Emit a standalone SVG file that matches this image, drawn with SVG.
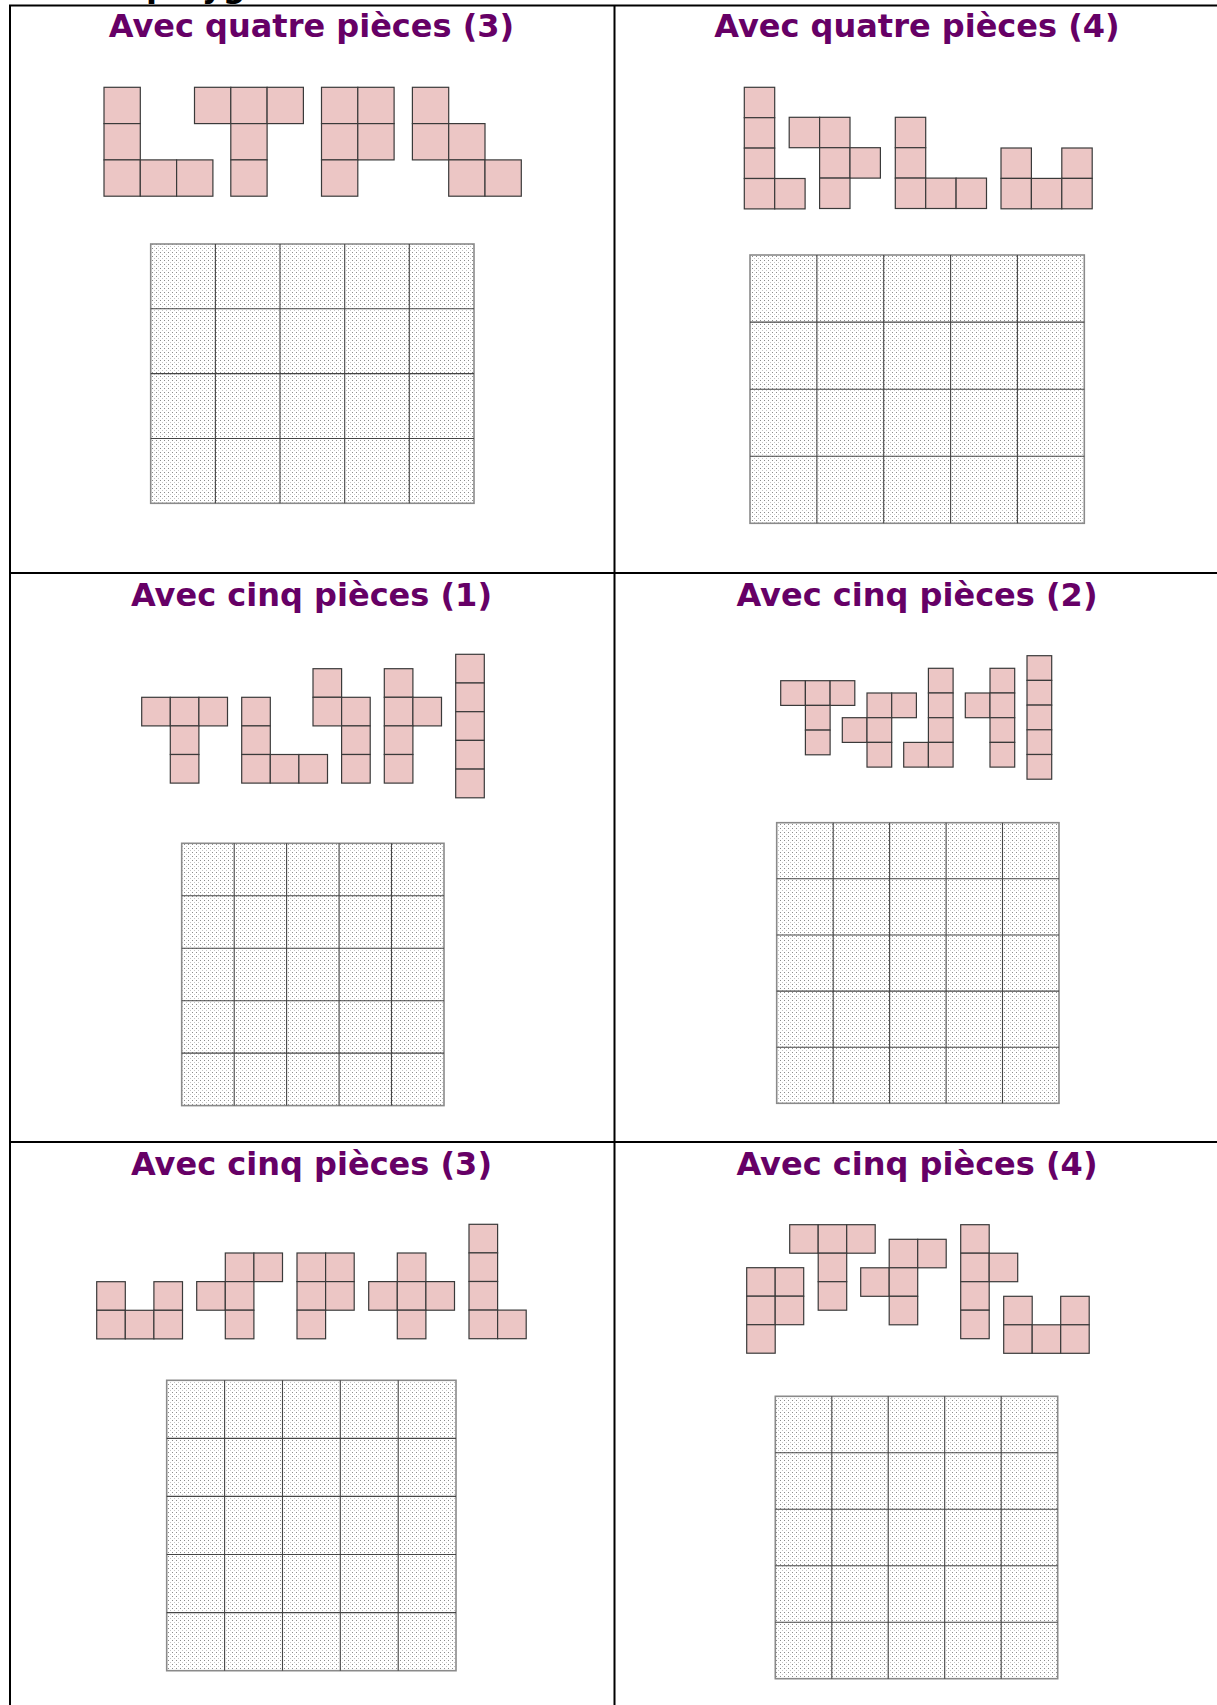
<svg xmlns="http://www.w3.org/2000/svg" width="1217" height="1705" viewBox="0 0 1217 1705">
<style>
.bg{fill:#fff}
.tbl{stroke:#000;stroke-width:2;fill:none}
.ttl{font-family:"DejaVu Sans",Verdana,sans-serif;font-weight:bold;font-size:32px;fill:#660066;text-anchor:middle}
.cut{font-family:"DejaVu Sans",Verdana,sans-serif;font-weight:bold;font-size:32px;fill:#000}
.c rect{fill:#ECC6C5;stroke:#3a3a3a;stroke-width:1.2}
.gf{fill:url(#dots);stroke:#8a8a8a;stroke-width:1.6}
.gl{fill:none;stroke:#454545;stroke-width:1.1}
</style>
<defs>
<pattern id="dots" width="4" height="4" patternUnits="userSpaceOnUse">
<rect width="4" height="4" fill="#fff"/>
<rect x="0" y="0" width="1" height="1" fill="#8c8c8c"/>
<rect x="2" y="2" width="1" height="1" fill="#c6c6c6"/>
</pattern>
</defs>
<rect class="bg" width="1217" height="1705"/>
<text class="cut" x="146" y="-3">polygones</text>

<g id="table">
<path class="tbl" d="M9 5.5H1217M10 5V1705M614.5 5V1705M10 573H1217M10 1142H1217"/>
</g>

<g id="panel1">
<text class="ttl" x="311.5" y="37">Avec quatre pièces (3)</text>
<g class="c" transform="translate(104,87.3)"><rect x="0" y="0" width="36.3" height="36.3"/><rect x="0" y="36.3" width="36.3" height="36.3"/><rect x="0" y="72.6" width="36.3" height="36.3"/><rect x="36.3" y="72.6" width="36.3" height="36.3"/><rect x="72.6" y="72.6" width="36.3" height="36.3"/></g>
<g class="c" transform="translate(194.5,87.3)"><rect x="0" y="0" width="36.3" height="36.3"/><rect x="36.3" y="0" width="36.3" height="36.3"/><rect x="72.6" y="0" width="36.3" height="36.3"/><rect x="36.3" y="36.3" width="36.3" height="36.3"/><rect x="36.3" y="72.6" width="36.3" height="36.3"/></g>
<g class="c" transform="translate(321.5,87.3)"><rect x="0" y="0" width="36.3" height="36.3"/><rect x="36.3" y="0" width="36.3" height="36.3"/><rect x="0" y="36.3" width="36.3" height="36.3"/><rect x="36.3" y="36.3" width="36.3" height="36.3"/><rect x="0" y="72.6" width="36.3" height="36.3"/></g>
<g class="c" transform="translate(412.4,87.3)"><rect x="0" y="0" width="36.3" height="36.3"/><rect x="0" y="36.3" width="36.3" height="36.3"/><rect x="36.3" y="36.3" width="36.3" height="36.3"/><rect x="36.3" y="72.6" width="36.3" height="36.3"/><rect x="72.6" y="72.6" width="36.3" height="36.3"/></g>
<g id="grid1"><rect class="gf" x="150.7" y="244" width="323.3" height="259.3"/>
<path class="gl" d="M215.4 244V503.3M280 244V503.3M344.7 244V503.3M409.3 244V503.3M150.7 308.8H474M150.7 373.6H474M150.7 438.5H474"/></g>
</g>

<g id="panel2">
<text class="ttl" x="917" y="37">Avec quatre pièces (4)</text>
<g class="c" transform="translate(744.3,87.3)"><rect x="0" y="0" width="30.4" height="30.4"/><rect x="0" y="30.4" width="30.4" height="30.4"/><rect x="0" y="60.8" width="30.4" height="30.4"/><rect x="0" y="91.2" width="30.4" height="30.4"/><rect x="30.4" y="91.2" width="30.4" height="30.4"/></g>
<g class="c" transform="translate(789.2,117.3)"><rect x="0" y="0" width="30.4" height="30.4"/><rect x="30.4" y="0" width="30.4" height="30.4"/><rect x="30.4" y="30.4" width="30.4" height="30.4"/><rect x="60.8" y="30.4" width="30.4" height="30.4"/><rect x="30.4" y="60.8" width="30.4" height="30.4"/></g>
<g class="c" transform="translate(895.3,117.3)"><rect x="0" y="0" width="30.4" height="30.4"/><rect x="0" y="30.4" width="30.4" height="30.4"/><rect x="0" y="60.8" width="30.4" height="30.4"/><rect x="30.4" y="60.8" width="30.4" height="30.4"/><rect x="60.8" y="60.8" width="30.4" height="30.4"/></g>
<g class="c" transform="translate(1001,148)"><rect x="0" y="0" width="30.4" height="30.4"/><rect x="60.8" y="0" width="30.4" height="30.4"/><rect x="0" y="30.4" width="30.4" height="30.4"/><rect x="30.4" y="30.4" width="30.4" height="30.4"/><rect x="60.8" y="30.4" width="30.4" height="30.4"/></g>
<g id="grid2"><rect class="gf" x="750" y="255" width="334.3" height="268.3"/>
<path class="gl" d="M816.9 255V523.3M883.7 255V523.3M950.6 255V523.3M1017.4 255V523.3M750 322.1H1084.3M750 389.2H1084.3M750 456.2H1084.3"/></g>
</g>

<g id="panel3">
<text class="ttl" x="311.5" y="606">Avec cinq pièces (1)</text>
<g class="c" transform="translate(141.7,697.3)"><rect x="0" y="0" width="28.6" height="28.6"/><rect x="28.6" y="0" width="28.6" height="28.6"/><rect x="57.2" y="0" width="28.6" height="28.6"/><rect x="28.6" y="28.6" width="28.6" height="28.6"/><rect x="28.6" y="57.2" width="28.6" height="28.6"/></g>
<g class="c" transform="translate(241.7,697.3)"><rect x="0" y="0" width="28.6" height="28.6"/><rect x="0" y="28.6" width="28.6" height="28.6"/><rect x="0" y="57.2" width="28.6" height="28.6"/><rect x="28.6" y="57.2" width="28.6" height="28.6"/><rect x="57.2" y="57.2" width="28.6" height="28.6"/></g>
<g class="c" transform="translate(313,668.7)"><rect x="0" y="0" width="28.6" height="28.6"/><rect x="0" y="28.6" width="28.6" height="28.6"/><rect x="28.6" y="28.6" width="28.6" height="28.6"/><rect x="28.6" y="57.2" width="28.6" height="28.6"/><rect x="28.6" y="85.8" width="28.6" height="28.6"/></g>
<g class="c" transform="translate(384.3,668.7)"><rect x="0" y="0" width="28.6" height="28.6"/><rect x="0" y="28.6" width="28.6" height="28.6"/><rect x="28.6" y="28.6" width="28.6" height="28.6"/><rect x="0" y="57.2" width="28.6" height="28.6"/><rect x="0" y="85.8" width="28.6" height="28.6"/></g>
<g class="c" transform="translate(455.7,654.3)"><rect x="0" y="0" width="28.6" height="28.7"/><rect x="0" y="28.7" width="28.6" height="28.7"/><rect x="0" y="57.4" width="28.6" height="28.7"/><rect x="0" y="86.1" width="28.6" height="28.7"/><rect x="0" y="114.8" width="28.6" height="28.7"/></g>
<g id="grid3"><rect class="gf" x="181.7" y="843.3" width="262.3" height="262.3"/>
<path class="gl" d="M234.2 843.3V1105.6M286.6 843.3V1105.6M339.1 843.3V1105.6M391.5 843.3V1105.6M181.7 895.8H444M181.7 948.2H444M181.7 1000.7H444M181.7 1053.1H444"/></g>
</g>

<g id="panel4">
<text class="ttl" x="917" y="606">Avec cinq pièces (2)</text>
<g class="c" transform="translate(780.7,680.7)"><rect x="0" y="0" width="24.7" height="24.7"/><rect x="24.7" y="0" width="24.7" height="24.7"/><rect x="49.4" y="0" width="24.7" height="24.7"/><rect x="24.7" y="24.7" width="24.7" height="24.7"/><rect x="24.7" y="49.4" width="24.7" height="24.7"/></g>
<g class="c" transform="translate(842.3,693)"><rect x="24.7" y="0" width="24.7" height="24.7"/><rect x="49.4" y="0" width="24.7" height="24.7"/><rect x="0" y="24.7" width="24.7" height="24.7"/><rect x="24.7" y="24.7" width="24.7" height="24.7"/><rect x="24.7" y="49.4" width="24.7" height="24.7"/></g>
<g class="c" transform="translate(903.7,668.3)"><rect x="24.7" y="0" width="24.7" height="24.7"/><rect x="24.7" y="24.7" width="24.7" height="24.7"/><rect x="24.7" y="49.4" width="24.7" height="24.7"/><rect x="0" y="74.1" width="24.7" height="24.7"/><rect x="24.7" y="74.1" width="24.7" height="24.7"/></g>
<g class="c" transform="translate(965.3,668.3)"><rect x="24.7" y="0" width="24.7" height="24.7"/><rect x="0" y="24.7" width="24.7" height="24.7"/><rect x="24.7" y="24.7" width="24.7" height="24.7"/><rect x="24.7" y="49.4" width="24.7" height="24.7"/><rect x="24.7" y="74.1" width="24.7" height="24.7"/></g>
<g class="c" transform="translate(1027,655.7)"><rect x="0" y="0" width="24.7" height="24.7"/><rect x="0" y="24.7" width="24.7" height="24.7"/><rect x="0" y="49.4" width="24.7" height="24.7"/><rect x="0" y="74.1" width="24.7" height="24.7"/><rect x="0" y="98.8" width="24.7" height="24.7"/></g>
<g id="grid4"><rect class="gf" x="776.7" y="822.7" width="282.3" height="280.6"/>
<path class="gl" d="M833.2 822.7V1103.3M889.6 822.7V1103.3M946.1 822.7V1103.3M1002.5 822.7V1103.3M776.7 878.8H1059M776.7 935H1059M776.7 991.1H1059M776.7 1047.2H1059"/></g>
</g>

<g id="panel5">
<text class="ttl" x="311.5" y="1175">Avec cinq pièces (3)</text>
<g class="c" transform="translate(96.7,1281.7)"><rect x="0" y="0" width="28.6" height="28.6"/><rect x="57.2" y="0" width="28.6" height="28.6"/><rect x="0" y="28.6" width="28.6" height="28.6"/><rect x="28.6" y="28.6" width="28.6" height="28.6"/><rect x="57.2" y="28.6" width="28.6" height="28.6"/></g>
<g class="c" transform="translate(196.7,1253)"><rect x="28.6" y="0" width="28.6" height="28.6"/><rect x="57.2" y="0" width="28.6" height="28.6"/><rect x="0" y="28.6" width="28.6" height="28.6"/><rect x="28.6" y="28.6" width="28.6" height="28.6"/><rect x="28.6" y="57.2" width="28.6" height="28.6"/></g>
<g class="c" transform="translate(297,1253)"><rect x="0" y="0" width="28.6" height="28.6"/><rect x="28.6" y="0" width="28.6" height="28.6"/><rect x="0" y="28.6" width="28.6" height="28.6"/><rect x="28.6" y="28.6" width="28.6" height="28.6"/><rect x="0" y="57.2" width="28.6" height="28.6"/></g>
<g class="c" transform="translate(368.7,1253)"><rect x="28.6" y="0" width="28.6" height="28.6"/><rect x="0" y="28.6" width="28.6" height="28.6"/><rect x="28.6" y="28.6" width="28.6" height="28.6"/><rect x="57.2" y="28.6" width="28.6" height="28.6"/><rect x="28.6" y="57.2" width="28.6" height="28.6"/></g>
<g class="c" transform="translate(469,1224.3)"><rect x="0" y="0" width="28.6" height="28.6"/><rect x="0" y="28.6" width="28.6" height="28.6"/><rect x="0" y="57.2" width="28.6" height="28.6"/><rect x="0" y="85.8" width="28.6" height="28.6"/><rect x="28.6" y="85.8" width="28.6" height="28.6"/></g>
<g id="grid5"><rect class="gf" x="166.7" y="1380.3" width="289.3" height="290.4"/>
<path class="gl" d="M224.6 1380.3V1670.7M282.5 1380.3V1670.7M340.3 1380.3V1670.7M398.2 1380.3V1670.7M166.7 1438.4H456M166.7 1496.4H456M166.7 1554.5H456M166.7 1612.6H456"/></g>
</g>

<g id="panel6">
<text class="ttl" x="917" y="1175">Avec cinq pièces (4)</text>
<g class="c" transform="translate(746.7,1267.7)"><rect x="0" y="0" width="28.5" height="28.5"/><rect x="28.5" y="0" width="28.5" height="28.5"/><rect x="0" y="28.5" width="28.5" height="28.5"/><rect x="28.5" y="28.5" width="28.5" height="28.5"/><rect x="0" y="57" width="28.5" height="28.5"/></g>
<g class="c" transform="translate(789.7,1224.7)"><rect x="0" y="0" width="28.5" height="28.5"/><rect x="28.5" y="0" width="28.5" height="28.5"/><rect x="57" y="0" width="28.5" height="28.5"/><rect x="28.5" y="28.5" width="28.5" height="28.5"/><rect x="28.5" y="57" width="28.5" height="28.5"/></g>
<g class="c" transform="translate(860.7,1239.3)"><rect x="28.5" y="0" width="28.5" height="28.5"/><rect x="57" y="0" width="28.5" height="28.5"/><rect x="0" y="28.5" width="28.5" height="28.5"/><rect x="28.5" y="28.5" width="28.5" height="28.5"/><rect x="28.5" y="57" width="28.5" height="28.5"/></g>
<g class="c" transform="translate(960.7,1224.7)"><rect x="0" y="0" width="28.5" height="28.5"/><rect x="0" y="28.5" width="28.5" height="28.5"/><rect x="28.5" y="28.5" width="28.5" height="28.5"/><rect x="0" y="57" width="28.5" height="28.5"/><rect x="0" y="85.5" width="28.5" height="28.5"/></g>
<g class="c" transform="translate(1003.7,1296.3)"><rect x="0" y="0" width="28.5" height="28.5"/><rect x="57" y="0" width="28.5" height="28.5"/><rect x="0" y="28.5" width="28.5" height="28.5"/><rect x="28.5" y="28.5" width="28.5" height="28.5"/><rect x="57" y="28.5" width="28.5" height="28.5"/></g>
<g id="grid6"><rect class="gf" x="775.3" y="1396.3" width="282.4" height="282.4"/>
<path class="gl" d="M831.8 1396.3V1678.7M888.2 1396.3V1678.7M944.7 1396.3V1678.7M1001.2 1396.3V1678.7M775.3 1452.8H1057.7M775.3 1509.3H1057.7M775.3 1565.7H1057.7M775.3 1622.2H1057.7"/></g>
</g>
</svg>
